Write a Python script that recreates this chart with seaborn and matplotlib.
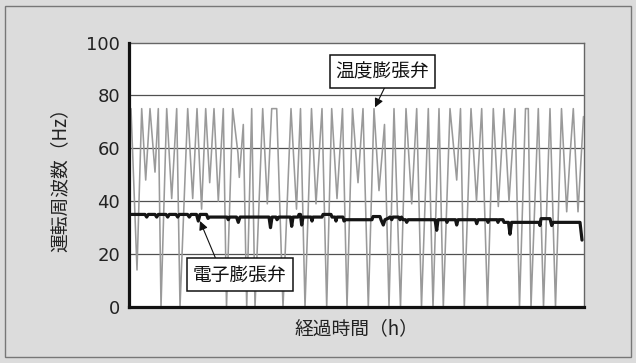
import matplotlib
matplotlib.use("Agg")
import matplotlib.pyplot as plt
import seaborn as sns
import pandas as pd
from matplotlib.patches import Rectangle

# ---------------- data ----------------
# 温度膨張弁: elapsed time (arbitrary units) and operating frequency (Hz)
temp_t = [0, 2, 8, 12.7, 16.7, 21, 26, 29.3, 32, 37.7, 42.7, 47.7, 51, 58.7, 63.7,
          68, 72.6, 76.7, 80.7, 85, 89.3, 94.3, 97.5, 103.7, 109, 110.3, 114.3, 117.7,
          122.7, 126, 133.7, 138.3, 142.7, 147.7, 154, 162, 167.5, 171.5, 176, 182.5,
          187, 193, 197.7, 202.7, 208, 213.5, 218, 223.5, 229, 234, 239.3, 245, 250,
          252.5, 255.5, 260, 265, 271.5, 277, 282.7, 287.7, 292.5, 299.3, 304, 310,
          314.3, 321, 327.7, 331.5, 335.3, 342, 347.5, 352.7, 358.5, 364.3, 369.3, 375,
          380, 386, 390.5, 396.5, 399.3, 402, 409.3, 414.5, 421, 426.5, 432.5, 437.7,
          441, 444.3, 449, 454.5]
temp_hz = [68, 75, 14, 75, 48, 75, 51, 75, 0, 75, 41, 75, 0, 75, 41,
           75, 37, 75, 47, 75, 40, 75, 0, 75, 58, 49, 69, 0,
           75, 0, 75, 39, 75, 75, 0, 75, 37, 75, 0, 75,
           39, 75, 0, 75, 41, 75, 0, 75, 47, 75, 0, 75, 44,
           55, 69, 0, 75, 0, 75, 39, 75, 0, 75, 0, 75,
           0, 75, 48, 75, 0, 75, 40, 75, 0, 75, 38, 75,
           40, 75, 0, 75, 75, 0, 75, 0, 75, 0, 75, 36,
           57, 75, 36, 72]

# 電子膨張弁
elec_t = [0, 16, 17.7, 19.3, 26, 27.7, 29.3, 37, 38.7, 40.3, 47, 48.7, 50.3, 58.5, 60.3,
          62, 67.5, 69.3, 71, 77.5, 79, 80.5, 98, 99.3, 100.5, 107.5, 109.3, 111, 140,
          141.5, 143, 147, 148, 150, 161.5, 162.7, 164, 169, 170, 171.5, 172.7, 174, 182,
          183, 184, 193, 194, 202, 203, 206, 207, 208, 214, 215, 216, 243, 244, 251, 252,
          254.3, 256, 259, 261, 262.7, 264, 269.5, 271, 272.5, 274, 276.5, 277.7, 279,
          306, 307.7, 309, 317, 318, 319, 326.5, 327.7, 329, 346.5, 347.7, 349, 358, 359,
          360, 368, 369, 370, 374, 375, 379.5, 381, 382.5, 410, 411, 412, 421, 422.7,
          424, 451, 453]
elec_hz = [35, 35, 34, 35, 35, 34, 35, 35, 34, 35, 35, 34, 35, 35, 34,
           35, 35, 32.5, 35, 35, 33.5, 34, 34, 33, 34, 34, 32, 34, 34,
           30, 34, 34, 33, 34, 34, 30.5, 34, 34, 35, 35, 31, 34, 34,
           32.5, 34, 34, 35, 35, 34, 34, 32.5, 34, 34, 32.5, 33, 33, 34.2, 34.2, 33,
           31, 33, 33.5, 34, 33, 34, 34, 33, 34, 33, 33, 32, 33,
           33, 29, 33, 33, 32, 33, 33, 31, 33, 33, 31.5, 33, 33, 32,
           33, 33, 32, 33, 33, 32, 32, 27.5, 32, 32, 30.8, 33.4, 33.4, 30.8,
           32, 32, 25.3]

y_ticks = [0, 20, 40, 60, 80, 100]
label_temp = "温度膨張弁"
label_elec = "電子膨張弁"
x_label = "経過時間（h）"
y_label = "運転周波数（Hz）"

# ---------------- style ----------------
sns.set_style("white")
plt.rcParams["font.family"] = ["Noto Sans CJK JP", "DejaVu Sans"]

BG = "#dcdcdc"
fig = plt.figure(figsize=(6.36, 3.63), dpi=100, facecolor=BG)
ax = fig.add_axes([129 / 636, 1 - 307 / 363, (584 - 129) / 636, (307 - 42.5) / 363])
ax.set_facecolor("white")

df_temp = pd.DataFrame({"t": temp_t, "hz": temp_hz})
df_elec = pd.DataFrame({"t": elec_t, "hz": elec_hz})

sns.lineplot(data=df_temp, x="t", y="hz", ax=ax, color="#9a9a9a", lw=1.15,
             estimator=None, sort=False, zorder=3)
sns.lineplot(data=df_elec, x="t", y="hz", ax=ax, color="#151515", lw=2.3,
             estimator=None, sort=False, zorder=4)

ax.set_xlim(0, 455)
ax.set_ylim(0, 100)
ax.set_xticks([])
ax.set_yticks(y_ticks)
ax.set_yticklabels([str(v) for v in y_ticks], fontfamily="DejaVu Sans")
ax.tick_params(axis="y", length=0, pad=6.5, labelsize=13, labelcolor="#222222")

for v in [20, 40, 60, 80]:
    ax.axhline(v, color="#505050", lw=0.9, zorder=1)

for s in ["left", "bottom"]:
    ax.spines[s].set_color("#111111")
    ax.spines[s].set_linewidth(2.3)
    ax.spines[s].set_zorder(6)
for s in ["top", "right"]:
    ax.spines[s].set_color("#666666")
    ax.spines[s].set_linewidth(1.0)

ax.set_xlabel(x_label, fontsize=13.5, color="#222222", labelpad=8)
ax.set_ylabel(y_label, fontsize=13.5, color="#222222", labelpad=11)

# annotations
box = dict(boxstyle="square,pad=0.32", fc="white", ec="#111111", lw=1.1)
ax.text(253.5, 89.0, label_temp, ha="center", va="center", fontsize=13.5,
        color="#111111", bbox=box, zorder=8)
ax.text(111, 12.1, label_elec, ha="center", va="center", fontsize=13.5,
        color="#111111", bbox=box, zorder=8)
arrow = dict(arrowstyle="-|>", mutation_scale=13, lw=0.8, color="#111111",
             shrinkA=0, shrinkB=0)
ax.annotate("", xy=(246, 75.5), xytext=(257, 84.0), arrowprops=arrow, zorder=7)
ax.annotate("", xy=(71, 32.5), xytext=(87.7, 17.4), arrowprops=arrow, zorder=7)

# outer frame
fig.patches.append(Rectangle((5 / 636, 6 / 363), 626 / 636, 351 / 363,
                             transform=fig.transFigure, fill=False,
                             ec="#777777", lw=1.0))

fig.savefig("out.png", dpi=100, facecolor=BG)
